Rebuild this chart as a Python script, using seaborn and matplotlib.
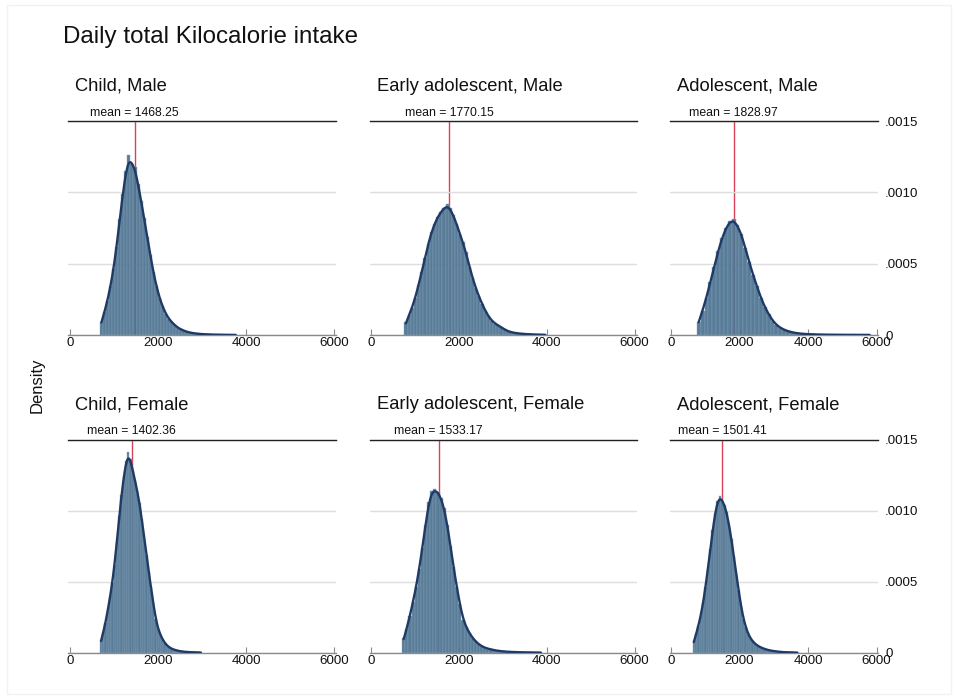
import numpy as np
import pandas as pd
import matplotlib
matplotlib.use("Agg")
import matplotlib.pyplot as plt
import seaborn as sns
from matplotlib.patches import Rectangle

sns.set_theme(style="white")
plt.rcParams['font.family'] = ['Liberation Sans', 'DejaVu Sans']

# ---------------- data ----------------
panel_titles = ["Child, Male", "Early adolescent, Male", "Adolescent, Male",
                "Child, Female", "Early adolescent, Female", "Adolescent, Female"]
panel_means = [1468.25, 1770.15, 1828.97, 1402.36, 1533.17, 1501.41]

# data range (kcal) covered by each histogram
child_male_range = (680, 3800)
early_male_range = (750, 4000)
adol_male_range = (750, 5850)
child_female_range = (680, 3000)
early_female_range = (700, 3900)
adol_female_range = (630, 3720)

# bar heights (density, in units of 1e-4), one per bin, left to right
child_male_density = [0.9, 1.6, 2.4, 3.4, 4.6, 6.2, 8.1, 9.9, 11.5, 12.6,
                      12.0, 11.8, 10.6, 9.4, 8.2, 6.9, 5.6, 4.4, 3.4, 2.6,
                      2.0, 1.5, 1.15, 0.9, 0.7, 0.5, 0.4, 0.3, 0.22, 0.17,
                      0.13, 0.1, 0.08, 0.06, 0.05, 0.04, 0.03, 0.03, 0.02, 0.02,
                      0.01, 0.01, 0.01, 0.01, 0.01]
early_male_density = [0.9, 1.4, 1.9, 2.6, 3.5, 4.4, 5.4, 6.4, 7.2, 7.8,
                      8.3, 8.6, 8.9, 9.2, 8.9, 8.4, 7.8, 7.1, 6.5, 5.8,
                      4.8, 4.0, 3.3, 2.7, 2.2, 1.7, 1.3, 1.0, 0.8, 0.7,
                      0.55, 0.4, 0.28, 0.2, 0.16, 0.12, 0.1, 0.08, 0.06, 0.05,
                      0.04, 0.03, 0.03, 0.02, 0.02]
adol_male_density = [0.9, 1.7, 2.6, 3.7, 4.8, 5.9, 6.8, 7.5, 8.0, 8.1,
                     7.7, 7.1, 6.1, 5.1, 4.2, 3.4, 2.6, 1.95, 1.45, 1.0,
                     0.7, 0.5, 0.36, 0.26, 0.19, 0.14, 0.1, 0.08, 0.06, 0.05,
                     0.04, 0.03, 0.03, 0.02, 0.02, 0.02, 0.01, 0.01, 0.01, 0.01,
                     0.01, 0.01, 0.01, 0.01, 0.01]
child_female_density = [0.9, 1.4, 2.1, 3.0, 3.9, 4.9, 6.2, 7.8, 9.6, 11.1,
                        12.4, 13.5, 14.1, 13.6, 12.8, 12.1, 11.4, 10.5, 9.4, 8.1,
                        6.9, 5.7, 4.6, 3.5, 2.4, 1.7, 1.3, 0.95, 0.7, 0.5,
                        0.38, 0.28, 0.22, 0.17, 0.13, 0.1, 0.08, 0.06, 0.05, 0.04,
                        0.03, 0.03, 0.02, 0.02, 0.01]
early_female_density = [1.0, 1.7, 2.6, 3.6, 4.6, 5.9, 7.4, 9.0, 10.6, 11.4,
                        11.5, 11.3, 10.9, 10.2, 9.0, 7.5, 6.0, 4.6, 3.4, 2.3,
                        1.8, 1.4, 1.05, 0.8, 0.6, 0.45, 0.35, 0.28, 0.23, 0.18,
                        0.14, 0.11, 0.09, 0.07, 0.06, 0.05, 0.04, 0.03, 0.03, 0.02,
                        0.02, 0.02, 0.01, 0.01, 0.01]
adol_female_density = [0.8, 1.3, 1.9, 2.6, 3.5, 4.6, 5.9, 7.3, 8.6, 9.8,
                       10.7, 11.0, 10.8, 10.4, 9.9, 9.0, 8.0, 6.8, 5.6, 4.4,
                       3.3, 2.4, 1.8, 1.35, 1.0, 0.8, 0.62, 0.5, 0.4, 0.33,
                       0.27, 0.21, 0.17, 0.14, 0.11, 0.09, 0.07, 0.05, 0.04, 0.03,
                       0.03, 0.02, 0.02, 0.01, 0.01]

panel_ranges = [child_male_range, early_male_range, adol_male_range,
                child_female_range, early_female_range, adol_female_range]
panel_densities = [child_male_density, early_male_density, adol_male_density,
                   child_female_density, early_female_density, adol_female_density]

x_ticks = [0, 2000, 4000, 6000]
y_ticks = [0, 0.0005, 0.0010, 0.0015]
y_tick_labels = ["0", ".0005", ".0010", ".0015"]

# ---------------- style ----------------
BAR = "#4c7391"
BAR_EDGE = "#89a3b8"
KDE = "#1f3a64"
MEAN = "#d9415a"
GRID = "#dedede"

W, H = 956, 698
fig = plt.figure(figsize=(W / 100, H / 100), dpi=100)
fig.patch.set_facecolor("white")

# axes boxes in pixels: (left, right) per column, (top, bottom) per row
cols = [(68.0, 336.0), (369.5, 636.5), (669.5, 878.2)]
rows = [(121.0, 335.0), (439.5, 652.7)]

for i in range(6):
    r, c = divmod(i, 3)
    l, rr = cols[c]
    t, b = rows[r]
    ax = fig.add_axes([l / W, 1 - b / H, (rr - l) / W, (b - t) / H])
    lo, hi = panel_ranges[i]
    vals = np.array(panel_densities[i]) * 1e-4
    edges = np.linspace(lo, hi, len(vals) + 1)
    centers = (edges[:-1] + edges[1:]) / 2
    df = pd.DataFrame({"kcal": centers, "dens": vals})

    ax.axvline(panel_means[i], color=MEAN, lw=1.0, zorder=0.5)
    sns.histplot(data=df, x="kcal", weights="dens", bins=[float(e) for e in edges],
                 stat="count", kde=True, kde_kws=dict(cut=0, bw_adjust=0.3),
                 line_kws=dict(lw=1.7),
                 color=BAR, edgecolor=BAR_EDGE, linewidth=0.3, alpha=0.93,
                 ax=ax, zorder=1)
    for ln in ax.lines[1:]:
        ln.set_color(KDE)
        ln.set_zorder(3)

    ax.set_xlim(-45, 6045)
    ax.set_ylim(0, 0.0015)
    ax.set_xlabel("")
    ax.set_ylabel("")
    ax.set_xticks(x_ticks)
    ax.set_xticklabels([str(v) for v in x_ticks])
    ax.set_yticks(y_ticks)
    ax.set_axisbelow(True)
    ax.grid(axis="y", color=GRID, lw=1.0)
    ax.grid(axis="x", visible=False)

    for s in ["left", "right"]:
        ax.spines[s].set_visible(False)
    ax.spines["top"].set_color("#222222")
    ax.spines["top"].set_linewidth(1.0)
    ax.spines["bottom"].set_color("#8a8a8a")
    ax.spines["bottom"].set_linewidth(1.0)

    ax.tick_params(axis="x", direction="in", length=4, width=0.8,
                   color="#8a8a8a", labelsize=9.6, pad=1.5, bottom=True,
                   labelcolor="#111111")
    if c == 2:
        ax.yaxis.tick_right()
        ax.set_yticklabels(y_tick_labels)
        ax.tick_params(axis="y", length=0, labelsize=9.6, pad=5,
                       labelright=True, labelleft=False, labelcolor="#111111")
    else:
        ax.set_yticklabels([])
        ax.tick_params(axis="y", length=0, labelleft=False)

    ax.annotate(f"mean = {panel_means[i]:.2f}", xy=(panel_means[i], 1),
                xycoords=("data", "axes fraction"), xytext=(0, 3.8),
                textcoords="offset points", ha="center", va="baseline",
                fontsize=8.8, color="#111111", annotation_clip=False)
    ax.annotate(panel_titles[i], xy=(0, 1), xycoords="axes fraction",
                xytext=(5.2, 21.8), textcoords="offset points",
                ha="left", va="baseline", fontsize=13.2, color="#111111",
                annotation_clip=False)

fig.text(63 / W, 1 - 43 / H, "Daily total Kilocalorie intake", fontsize=17.4,
         ha="left", va="baseline", color="#111111")
fig.text(37 / W, 1 - 385 / H, "Density", rotation=90, fontsize=12,
         ha="center", va="center", color="#111111")
fig.patches.append(Rectangle((7 / W, 1 - 694 / H), 944 / W, 689 / H,
                             transform=fig.transFigure, fill=False,
                             edgecolor="#eef3f5", lw=1.0))

fig.savefig("out.png", dpi=100)
